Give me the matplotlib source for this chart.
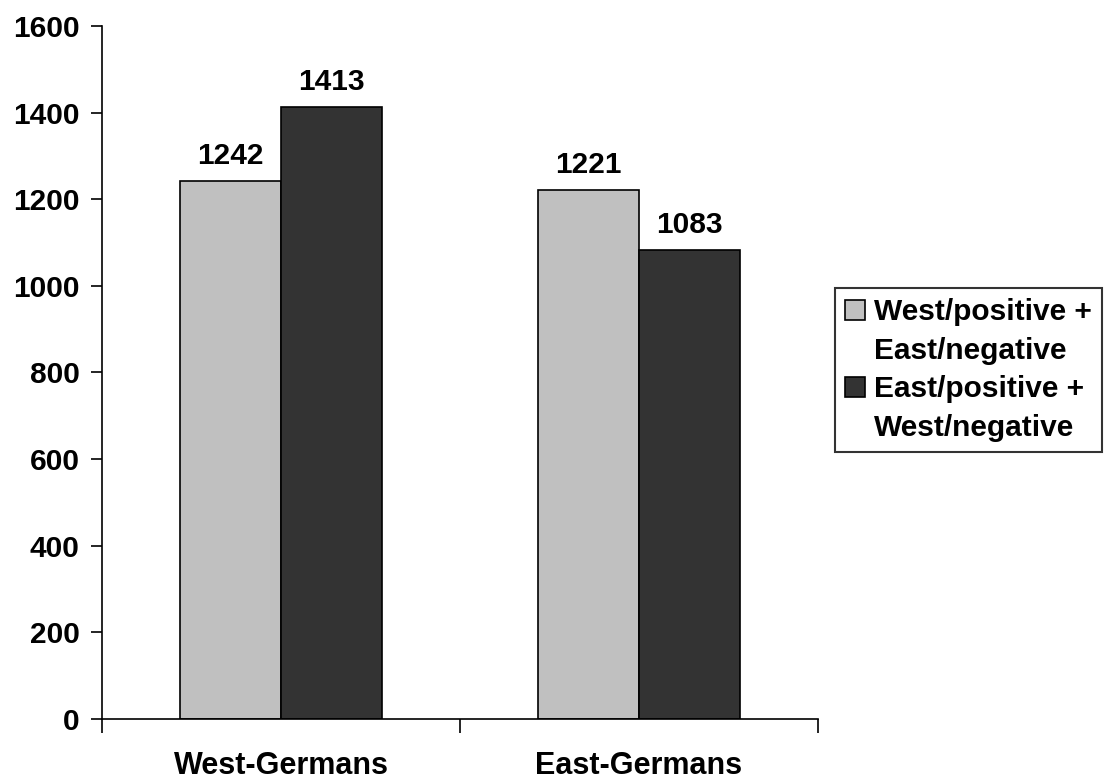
import matplotlib.pyplot as plt
from matplotlib.patches import Rectangle
import numpy as np

plt.rcParams["font.family"] = ["Liberation Sans", "DejaVu Sans"]
plt.rcParams["font.weight"] = "bold"

groups = ["West-Germans", "East-Germans"]
series_names = [["West/positive +", "East/negative"],
                ["East/positive +", "West/negative"]]
west_pos_east_neg = [1242, 1221]
east_pos_west_neg = [1413, 1083]
colors = ["#c0c0c0", "#333333"]

fig = plt.figure(figsize=(11.04, 7.8), dpi=100)
ax = fig.add_axes([0.0924, 0.0785, 0.6486, 0.888])

x = np.arange(len(groups))
w = 0.283
b1 = ax.bar(x - w / 2, west_pos_east_neg, w, color=colors[0], edgecolor="black",
            linewidth=1.2)
b2 = ax.bar(x + w / 2, east_pos_west_neg, w, color=colors[1], edgecolor="black",
            linewidth=1.2)

for bars in (b1, b2):
    for r in bars:
        ax.text(r.get_x() + r.get_width() / 2, r.get_height() + 25,
                f"{int(r.get_height())}", ha="center", va="bottom",
                fontsize=21.5, fontweight="bold")

ax.set_xlim(-0.5, 1.5)
ax.set_ylim(0, 1600)
ax.set_yticks(range(0, 1601, 200))
ax.tick_params(axis="y", labelsize=21.5, length=8, width=1.2, direction="out", pad=8)

# group boundaries as tick marks, labels at group centres
ax.set_xticks([-0.5, 0.5, 1.5])
ax.set_xticklabels([])
ax.tick_params(axis="x", which="major", length=10, width=1.2, direction="out")
ax.set_xticks(x, minor=True)
ax.set_xticklabels(groups, minor=True)
ax.tick_params(axis="x", which="minor", length=0, labelsize=22, pad=23)

for s in ["top", "right"]:
    ax.spines[s].set_visible(False)
for s in ["left", "bottom"]:
    ax.spines[s].set_linewidth(1.2)

# legend: swatch sits next to the first line of each two-line label
blank = Rectangle((0, 0), 1, 1, facecolor="none", edgecolor="none")
handles = [b1[0], blank, b2[0], blank]
labels = series_names[0] + series_names[1]
leg = fig.legend(handles, labels, loc="upper left", bbox_to_anchor=(0.7563, 0.6308),
                 borderaxespad=0, fontsize=21.5, frameon=True, fancybox=False,
                 edgecolor="black", handlelength=0.65, handleheight=0.65,
                 handletextpad=0.3, borderpad=0.35, labelspacing=0.35)
leg.get_frame().set_linewidth(1.5)

plt.savefig("out.png", dpi=100)
